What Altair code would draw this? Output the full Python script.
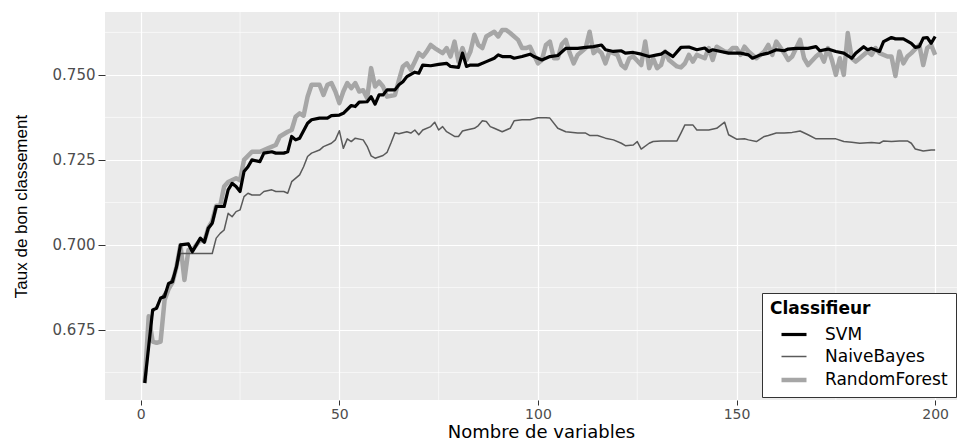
import altair as alt
import pandas as pd

# ---- data ----
classifiers = ["SVM", "NaiveBayes", "RandomForest"]
line_colors = ["#000000", "#5A5A5A", "#A6A6A6"]
line_widths = [3.2, 1.5, 4.5]

svm_x = [1, 3, 4, 5, 6, 7, 8, 9, 10, 12, 13, 15, 16, 17, 18, 19, 21, 22, 23, 24, 25, 26, 27, 28, 30,
         31, 33, 34, 36, 37, 38, 39, 40, 42, 43, 45, 47, 48, 50, 51, 53, 54, 55, 57, 58, 59, 60, 61, 62,
         64, 65, 66, 67, 69, 70, 71, 73, 75, 77, 78, 80, 81, 82, 83, 85, 87, 89, 90, 91, 93, 94, 96, 98,
         99, 101, 103, 105, 107, 110, 112, 114, 116, 117, 119, 121, 122, 124, 126, 128, 130, 131, 132,
         134, 136, 138, 140, 142, 143, 144, 146, 148, 151, 153, 154, 156, 158, 160, 162, 163, 165, 168,
         170, 171, 173, 175, 177, 179, 180, 182, 183, 184, 186, 187, 189, 190, 192, 194, 195, 196, 197,
         198, 199, 200]
svm_y = [0.6594, 0.6809, 0.6814, 0.6844, 0.6848, 0.6887, 0.6892, 0.6936, 0.7000, 0.7003, 0.6980,
         0.7020, 0.7008, 0.7049, 0.7064, 0.7113, 0.7113, 0.7162, 0.7181, 0.7172, 0.7157, 0.7216, 0.7230,
         0.7250, 0.7245, 0.7270, 0.7274, 0.7270, 0.7270, 0.7274, 0.7319, 0.7309, 0.7314, 0.7358, 0.7368,
         0.7373, 0.7373, 0.7380, 0.7382, 0.7387, 0.7410, 0.7407, 0.7420, 0.7421, 0.7436, 0.7414, 0.7441,
         0.7441, 0.7456, 0.7456, 0.7471, 0.7480, 0.7495, 0.7508, 0.7505, 0.7529, 0.7527, 0.7531, 0.7534,
         0.7525, 0.7522, 0.7564, 0.7525, 0.7529, 0.7529, 0.7539, 0.7549, 0.7559, 0.7554, 0.7554, 0.7549,
         0.7554, 0.7561, 0.7554, 0.7544, 0.7554, 0.7557, 0.7578, 0.7578, 0.7581, 0.7583, 0.7588, 0.7574,
         0.7569, 0.7571, 0.7564, 0.7566, 0.7561, 0.7554, 0.7559, 0.7561, 0.7569, 0.7554, 0.7581, 0.7582,
         0.7574, 0.7579, 0.7569, 0.7574, 0.7569, 0.7564, 0.7564, 0.7559, 0.7549, 0.7559, 0.7564, 0.7574,
         0.7571, 0.7576, 0.7578, 0.7578, 0.7583, 0.7571, 0.7576, 0.7569, 0.7564, 0.7549, 0.7564, 0.7583,
         0.7574, 0.7578, 0.7569, 0.7598, 0.7610, 0.7606, 0.7606, 0.7593, 0.7581, 0.7583, 0.7608, 0.7610,
         0.7593, 0.7613]

nb_x = [1, 3, 5, 7, 9, 10, 13, 18, 19, 20, 21, 22, 23, 24, 25, 26, 27, 28, 30, 31, 33, 34, 36, 37,
        38, 40, 41, 42, 43, 45, 46, 48, 49, 50, 51, 52, 53, 54, 56, 57, 58, 59, 61, 62, 63, 64, 65, 67,
        68, 69, 70, 71, 73, 74, 75, 76, 77, 79, 80, 81, 82, 84, 85, 86, 87, 88, 89, 91, 92, 93, 94, 96,
        98, 100, 102, 103, 105, 106, 107, 110, 112, 113, 115, 117, 119, 121, 122, 124, 125, 126, 128,
        129, 131, 133, 135, 136, 137, 139, 140, 143, 145, 147, 148, 150, 152, 153, 155, 157, 158, 160,
        162, 164, 165, 166, 168, 170, 175, 177, 179, 181, 184, 186, 187, 189, 191, 193, 194, 195, 197,
        199, 200]
nb_y = [0.6594, 0.6800, 0.6840, 0.6880, 0.6930, 0.6975, 0.6975, 0.6975, 0.7020, 0.7034, 0.7044,
        0.7093, 0.7083, 0.7098, 0.7103, 0.7142, 0.7152, 0.7147, 0.7147, 0.7157, 0.7162, 0.7157, 0.7157,
        0.7152, 0.7186, 0.7206, 0.7230, 0.7260, 0.7270, 0.7279, 0.7289, 0.7299, 0.7309, 0.7336, 0.7284,
        0.7312, 0.7304, 0.7314, 0.7309, 0.7290, 0.7262, 0.7255, 0.7263, 0.7272, 0.7300, 0.7330, 0.7327,
        0.7333, 0.7329, 0.7338, 0.7324, 0.7338, 0.7348, 0.7361, 0.7338, 0.7348, 0.7333, 0.7319, 0.7319,
        0.7335, 0.7338, 0.7343, 0.7351, 0.7365, 0.7363, 0.7348, 0.7343, 0.7333, 0.7338, 0.7343, 0.7365,
        0.7368, 0.7368, 0.7374, 0.7374, 0.7373, 0.7343, 0.7338, 0.7333, 0.7329, 0.7329, 0.7322, 0.7322,
        0.7314, 0.7309, 0.7299, 0.7292, 0.7294, 0.7304, 0.7282, 0.7299, 0.7304, 0.7306, 0.7306, 0.7306,
        0.7329, 0.7353, 0.7353, 0.7338, 0.7338, 0.7343, 0.7361, 0.7324, 0.7311, 0.7312, 0.7309, 0.7304,
        0.7319, 0.7322, 0.7329, 0.7329, 0.7331, 0.7333, 0.7335, 0.7324, 0.7312, 0.7312, 0.7304, 0.7302,
        0.7299, 0.7301, 0.7299, 0.7306, 0.7304, 0.7306, 0.7306, 0.7299, 0.7282, 0.7276, 0.7279, 0.7279]

rf_x = [1, 2, 3, 4, 5, 6, 7, 8, 9, 10, 11, 12, 13, 14, 15, 16, 17, 18, 19, 20, 21, 22, 24, 25, 26,
        28, 30, 31, 32, 34, 35, 37, 38, 39, 40, 41, 42, 43, 45, 46, 47, 48, 49, 50, 51, 52, 53, 54, 55,
        56, 57, 58, 59, 60, 61, 62, 64, 65, 66, 67, 68, 69, 70, 71, 72, 73, 74, 76, 77, 78, 79, 80, 81,
        82, 83, 84, 85, 86, 87, 89, 90, 91, 92, 93, 95, 96, 97, 98, 100, 101, 102, 103, 104, 105, 106,
        107, 108, 109, 110, 111, 112, 113, 114, 115, 116, 117, 118, 120, 121, 122, 123, 124, 126, 127,
        128, 129, 130, 131, 132, 133, 135, 136, 137, 138, 139, 140, 142, 143, 144, 145, 147, 148, 149,
        150, 151, 152, 153, 154, 155, 157, 158, 159, 160, 162, 163, 164, 166, 167, 168, 170, 171, 172,
        173, 174, 175, 176, 177, 178, 179, 180, 181, 183, 184, 185, 186, 188, 189, 190, 191, 192, 193,
        194, 196, 197, 198, 199, 200]
rf_y = [0.6594, 0.6790, 0.6716, 0.6712, 0.6716, 0.6838, 0.6870, 0.6890, 0.6936, 0.7000, 0.6897,
        0.6985, 0.6985, 0.7000, 0.7015, 0.7010, 0.7050, 0.7070, 0.7115, 0.7115, 0.7172, 0.7185, 0.7196,
        0.7190, 0.7250, 0.7274, 0.7274, 0.7279, 0.7284, 0.7294, 0.7319, 0.7333, 0.7338, 0.7377, 0.7387,
        0.7380, 0.7436, 0.7471, 0.7471, 0.7441, 0.7471, 0.7476, 0.7451, 0.7417, 0.7451, 0.7476, 0.7461,
        0.7476, 0.7451, 0.7455, 0.7431, 0.7520, 0.7466, 0.7480, 0.7466, 0.7436, 0.7441, 0.7485, 0.7525,
        0.7534, 0.7515, 0.7539, 0.7564, 0.7554, 0.7569, 0.7588, 0.7579, 0.7564, 0.7579, 0.7554, 0.7598,
        0.7539, 0.7579, 0.7544, 0.7569, 0.7618, 0.7588, 0.7579, 0.7613, 0.7627, 0.7613, 0.7632, 0.7632,
        0.7623, 0.7603, 0.7579, 0.7579, 0.7583, 0.7534, 0.7544, 0.7588, 0.7598, 0.7549, 0.7549, 0.7590,
        0.7603, 0.7564, 0.7534, 0.7559, 0.7569, 0.7579, 0.7627, 0.7564, 0.7575, 0.7564, 0.7534, 0.7569,
        0.7559, 0.7529, 0.7520, 0.7549, 0.7554, 0.7529, 0.7598, 0.7520, 0.7549, 0.7520, 0.7529, 0.7569,
        0.7544, 0.7525, 0.7522, 0.7534, 0.7559, 0.7539, 0.7559, 0.7549, 0.7579, 0.7544, 0.7583, 0.7569,
        0.7567, 0.7579, 0.7579, 0.7559, 0.7583, 0.7569, 0.7559, 0.7549, 0.7569, 0.7588, 0.7559, 0.7598,
        0.7564, 0.7544, 0.7554, 0.7603, 0.7549, 0.7529, 0.7554, 0.7564, 0.7539, 0.7579, 0.7544, 0.7500,
        0.7549, 0.7500, 0.7623, 0.7549, 0.7539, 0.7549, 0.7569, 0.7559, 0.7579, 0.7564, 0.7554, 0.7554,
        0.7497, 0.7569, 0.7534, 0.7554, 0.7564, 0.7588, 0.7529, 0.7579, 0.7588, 0.7559]

x_ticks = [0, 50, 100, 150, 200]
y_ticks = [0.675, 0.700, 0.725, 0.750]
x_minor = [25, 75, 125, 175]
y_minor = [0.6625, 0.6875, 0.7125, 0.7375, 0.7625]

# ---- build table (SVM drawn last, on top) ----
rows = []
for name, xs, ys in [("RandomForest", rf_x, rf_y), ("NaiveBayes", nb_x, nb_y), ("SVM", svm_x, svm_y)]:
    for x, y in zip(xs, ys):
        rows.append({"n": x, "acc": y, "clf": name})
df = pd.DataFrame(rows)

W, H = 852, 388
xscale = alt.Scale(domain=[-9, 205.5], nice=False, zero=False)
yscale = alt.Scale(domain=[0.6544, 0.7685], nice=False, zero=False)

x_axis = alt.Axis(values=x_ticks, title="Nombre de variables", labelFontSize=14,
                  labelPadding=2, tickSize=5,
                  titleFont="DejaVu Sans", titleFontSize=18, titleX=436, titleY=37,
                  titleBaseline="alphabetic", titleAlign="center")
y_axis = alt.Axis(values=y_ticks, format=".3f", title="Taux de bon classement",
                  labelFontSize=15, labelPadding=3, tickSize=7,
                  titleFont="Liberation Sans Narrow, Liberation Sans", titleFontSize=17,
                  titleX=-84, titleY=194, titleAngle=270,
                  titleBaseline="middle", titleAlign="center")

minor_x = alt.Chart(pd.DataFrame({"n": x_minor})).mark_rule(color="white", strokeWidth=0.6).encode(
    x=alt.X("n:Q", scale=xscale, axis=x_axis))
minor_y = alt.Chart(pd.DataFrame({"acc": y_minor})).mark_rule(color="white", strokeWidth=0.6).encode(
    y=alt.Y("acc:Q", scale=yscale, axis=y_axis))

legend = alt.Legend(
    title="Classifieur", orient="none", legendX=657, legendY=281,
    symbolType="stroke", symbolSize=625, symbolOffset=9, labelOffset=16,
    padding=8, rowPadding=0, titlePadding=2,
    strokeColor="#333333", fillColor="white",
    titleFont="DejaVu Sans", titleFontSize=17, titleFontWeight="bold", titleColor="black",
    labelFont="DejaVu Sans", labelFontSize=17, labelColor="black",
)

lines = alt.Chart(df).mark_line(strokeJoin="round", strokeCap="butt").encode(
    x=alt.X("n:Q", scale=xscale, axis=x_axis),
    y=alt.Y("acc:Q", scale=yscale, axis=y_axis),
    color=alt.Color("clf:N", scale=alt.Scale(domain=classifiers, range=line_colors), legend=legend),
    strokeWidth=alt.StrokeWidth("clf:N", scale=alt.Scale(type="ordinal", domain=classifiers, range=line_widths),
                                legend=legend),
    detail="clf:N",
)

chart = alt.layer(minor_x, minor_y, lines).properties(
    width=W, height=H,
    autosize=alt.AutoSizeParams(type="none"),
    padding={"left": 97, "top": 4, "right": 0, "bottom": 40},
).configure_view(fill="#EBEBEB", stroke=None).configure_axis(
    grid=True, gridColor="white", gridWidth=1.2, domain=False,
    tickColor="#333333", tickWidth=1,
    labelFont="DejaVu Sans", labelColor="#4D4D4D",
    titleColor="black", titleFontWeight="normal",
)

chart.save("out.html", embed_options={"renderer": "svg", "actions": False})
